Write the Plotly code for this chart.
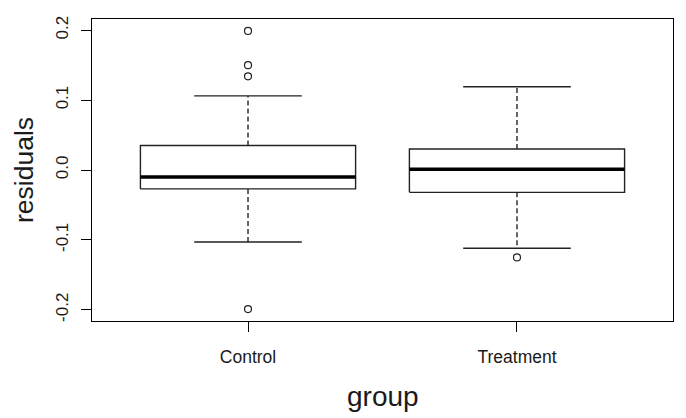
import plotly.graph_objects as go

categories = ["Control", "Treatment"]
q1 = [-0.027, -0.032]
median = [-0.010, 0.001]
q3 = [0.035, 0.030]
lower_whisker = [-0.103, -0.112]
upper_whisker = [0.106, 0.119]
outliers = [[0.199, 0.150, 0.134, -0.199], [-0.125]]

y_ticks = [-0.2, -0.1, 0.0, 0.1, 0.2]
y_tick_labels = ["-0.2", "-0.1", "0.0", "0.1", "0.2"]

ink = "#1a1a1a"
line_col = "#222222"
fig = go.Figure()

box_half = 0.4
cap_half = 0.2
lw = 1.4
for i, cat in enumerate(categories):
    xc = i + 1
    fig.add_trace(go.Scatter(x=[xc, xc], y=[q3[i], upper_whisker[i]], mode="lines",
                             line=dict(color=line_col, width=lw, dash="5px,3px"),
                             showlegend=False, hoverinfo="skip"))
    fig.add_trace(go.Scatter(x=[xc, xc], y=[q1[i], lower_whisker[i]], mode="lines",
                             line=dict(color=line_col, width=lw, dash="5px,3px"),
                             showlegend=False, hoverinfo="skip"))
    for v in (upper_whisker[i], lower_whisker[i]):
        fig.add_trace(go.Scatter(x=[xc - cap_half, xc + cap_half], y=[v, v], mode="lines",
                                 line=dict(color=line_col, width=lw),
                                 showlegend=False, hoverinfo="skip"))
    fig.add_trace(go.Scatter(x=[xc - box_half, xc + box_half, xc + box_half, xc - box_half, xc - box_half],
                             y=[q1[i], q1[i], q3[i], q3[i], q1[i]], mode="lines",
                             line=dict(color=line_col, width=lw),
                             showlegend=False, hoverinfo="skip"))
    fig.add_trace(go.Scatter(x=[xc - box_half, xc + box_half], y=[median[i], median[i]], mode="lines",
                             line=dict(color="black", width=3.5),
                             showlegend=False, hoverinfo="skip"))
    fig.add_trace(go.Scatter(x=[xc] * len(outliers[i]), y=outliers[i], mode="markers",
                             marker=dict(symbol="circle-open", size=7, color=line_col,
                                         line=dict(width=1.2, color=line_col)),
                             showlegend=False, hoverinfo="skip"))

font_family = "Liberation Sans, Arial, sans-serif"
# page body has an 8px margin, so the figure is sized/offset to compensate
fig.update_layout(
    width=678, height=410,
    margin=dict(l=84, r=13, t=8, b=97),
    paper_bgcolor="white", plot_bgcolor="white",
    font=dict(family=font_family, color=ink),
    xaxis=dict(range=[0.42, 2.58], tickvals=[1, 2], ticktext=categories,
               showgrid=False, zeroline=False, showline=True, mirror=True,
               linecolor="black", linewidth=1.2, ticks="outside", ticklen=10,
               tickcolor="black", tickwidth=1.2, tickfont=dict(size=17.5, color=ink),
               ticklabelstandoff=10),
    yaxis=dict(range=[-0.216, 0.216], tickvals=y_ticks, ticktext=y_tick_labels,
               showgrid=False, zeroline=False, showline=True, mirror=True,
               linecolor="black", linewidth=1.2, ticks="outside", ticklen=10,
               tickcolor="black", tickwidth=1.2, tickangle=-90,
               tickfont=dict(size=17, color=ink), ticklabelstandoff=6),
    annotations=[
        dict(text="group", xref="paper", yref="paper", x=0.5, y=-0.25,
             xanchor="center", yanchor="middle", showarrow=False,
             font=dict(size=28, color=ink, family=font_family)),
        dict(text="residuals", xref="paper", yref="paper", x=-0.117, y=0.5,
             xanchor="center", yanchor="middle", textangle=-90, showarrow=False,
             font=dict(size=26.5, color=ink, family=font_family)),
    ],
)

fig.write_html("out.html")
